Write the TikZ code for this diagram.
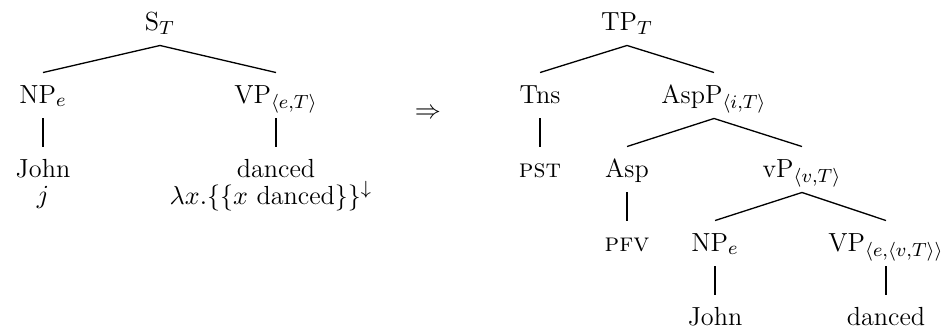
\documentclass[tikz,border=0pt]{standalone}
\usepackage{amsmath,amssymb}
\usepackage{tikz}

\begin{document}
\begin{tikzpicture}[x=0.42pt,y=-0.42pt,
  every node/.style={font=\fontsize{11pt}{13pt}\selectfont},
  cat/.style={anchor=base,inner sep=0pt,text height=12.6pt,text depth=6.3pt},
  sem/.style={anchor=base,inner sep=0pt},
  edge/.style={line width=0.55pt}]
  \useasboundingbox (0,0) rectangle (947,333);
  % left tree
  \node[cat] (s) at (160,30) {S$_T$};
  \node[cat] (np) at (43,103) {NP$_e$};
  \node[cat] (vp) at (276,103) {VP$_{\langle e,T\rangle}$};
  \node[cat] (john) at (43,177) {John};
  \node[sem] (johnsem) at (43,203) {$j$};
  \node[cat] (danced) at (276,177) {danced};
  \node[sem] (dancedsem) at (271,204) {$\lambda x.\{\{x \text{ danced}\}\}^{\downarrow}$};
  \draw[edge] (np.north) -- (s.south) -- (vp.north);
  \draw[edge] (np.south) -- (john.north);
  \draw[edge] (vp.south) -- (danced.north);
  \node (to) at (428,114) {$\Rightarrow$};
  % right tree
  \node[cat] (tp) at (627,30) {TP$_T$};
  \node[cat] (tns) at (540,103) {Tns};
  \node[cat] (aspp) at (714,103) {AspP$_{\langle i,T\rangle}$};
  \node[cat] (pst) at (540,177) {\textsc{pst}};
  \node[cat] (asp) at (627,177) {Asp};
  \node[cat] (vsp) at (802,177) {vP$_{\langle v,T\rangle}$};
  \node[cat] (pfv) at (627,251) {\textsc{pfv}};
  \node[cat] (np2) at (715,251) {NP$_e$};
  \node[cat] (vp2) at (886,251) {VP$_{\langle e,\langle v,T\rangle\rangle}$};
  \node[cat] (john2) at (715,325) {John};
  \node[cat] (danced2) at (886,325) {danced};
  \draw[edge] (tns.north) -- (tp.south) -- (aspp.north);
  \draw[edge] (tns.south) -- (pst.north);
  \draw[edge] (asp.north) -- (aspp.south) -- (vsp.north);
  \draw[edge] (asp.south) -- (pfv.north);
  \draw[edge] (np2.north) -- (vsp.south) -- (vp2.north);
  \draw[edge] (np2.south) -- (john2.north);
  \draw[edge] (vp2.south) -- (danced2.north);
\end{tikzpicture}
\end{document}
